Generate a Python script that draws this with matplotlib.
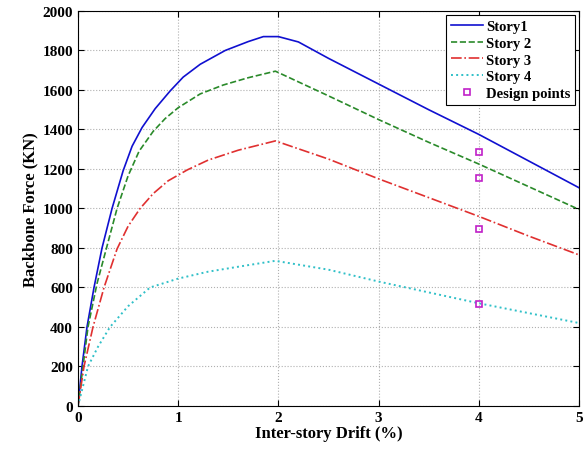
import matplotlib
matplotlib.use('Agg')
import matplotlib.pyplot as plt

# Backbone curves (drift in %, force in kN)
drift_s1 = [0, 0.04, 0.09, 0.16, 0.24, 0.34, 0.45, 0.54, 0.64, 0.77, 0.92, 1.05, 1.22, 1.47, 1.7, 1.85, 2.0, 2.2, 2.5, 3.0, 3.5, 4.0, 4.5, 5.0]
force_s1 = [0, 200, 400, 600, 800, 1000, 1190, 1315, 1410, 1505, 1595, 1665, 1730, 1800, 1845, 1870, 1870, 1843, 1760, 1630, 1500, 1375, 1240, 1105]

drift_s2 = [0, 0.05, 0.1, 0.19, 0.29, 0.39, 0.5, 0.61, 0.75, 0.87, 1.0, 1.22, 1.45, 1.7, 1.97, 2.5, 3.0, 3.5, 4.0, 4.5, 5.0]
force_s2 = [0, 200, 400, 620, 810, 1000, 1165, 1290, 1390, 1455, 1510, 1580, 1625, 1662, 1695, 1570, 1450, 1335, 1225, 1110, 995]

drift_s3 = [0, 0.06, 0.15, 0.26, 0.39, 0.5, 0.62, 0.75, 0.9, 1.09, 1.3, 1.6, 1.97, 2.5, 3.0, 3.5, 4.0, 4.5, 5.0]
force_s3 = [0, 200, 400, 600, 795, 910, 1000, 1075, 1140, 1195, 1245, 1295, 1342, 1250, 1150, 1055, 960, 860, 765]

drift_s4 = [0, 0.1, 0.2, 0.32, 0.5, 0.72, 1.0, 1.3, 1.6, 1.97, 2.5, 3.0, 3.5, 4.0, 4.5, 5.0]
force_s4 = [0, 200, 300, 400, 505, 600, 645, 680, 705, 735, 690, 630, 575, 520, 470, 420]

design_drift = [4, 4, 4, 4]
design_force = [1285, 1155, 895, 515]

plt.rcParams['font.family'] = ['Liberation Serif', 'DejaVu Serif']
plt.rcParams['font.weight'] = 'bold'

fig = plt.figure(figsize=(5.85, 4.52), dpi=100)
ax = fig.add_axes([0.1333, 0.0996, 0.8564, 0.874])

ax.plot(drift_s1, force_s1, '-', color='#1010d0', lw=1.2, label='Story1')
ax.plot(drift_s2, force_s2, '--', color='#2a8a2a', lw=1.2, label='Story 2')
ax.plot(drift_s3, force_s3, '-.', color='#e03030', lw=1.2, label='Story 3')
ax.plot(drift_s4, force_s4, ':', color='#30c0c8', lw=1.4, label='Story 4')
ax.plot(design_drift, design_force, 's', color='#c020c8', mfc='none', ms=5, mew=1.2,
        linestyle='none', label='Design points')

ax.set_xlim(0, 5)
ax.set_ylim(0, 2000)
ax.set_xticks(range(0, 6))
ax.set_yticks(range(0, 2001, 200))
ax.grid(True, linestyle=':', color='#b0b0b0', lw=0.8)
ax.tick_params(direction='in', top=True, right=True, labelsize=11, length=4)
for lbl in ax.get_xticklabels() + ax.get_yticklabels():
    lbl.set_fontweight('bold')

ax.set_xlabel('Inter-story Drift (%)', fontsize=12, fontweight='bold', labelpad=1)
ax.set_ylabel('Backbone Force (KN)', fontsize=12, fontweight='bold', labelpad=3)

leg = ax.legend(loc='upper right', fontsize=10.5, frameon=True, fancybox=False,
                edgecolor='black', framealpha=1, borderaxespad=0.3,
                handlelength=2.2, handletextpad=0.2, labelspacing=0.25, borderpad=0.3)
leg.get_frame().set_linewidth(0.8)
for t in leg.get_texts():
    t.set_fontweight('bold')

fig.savefig('out.png', dpi=100)
